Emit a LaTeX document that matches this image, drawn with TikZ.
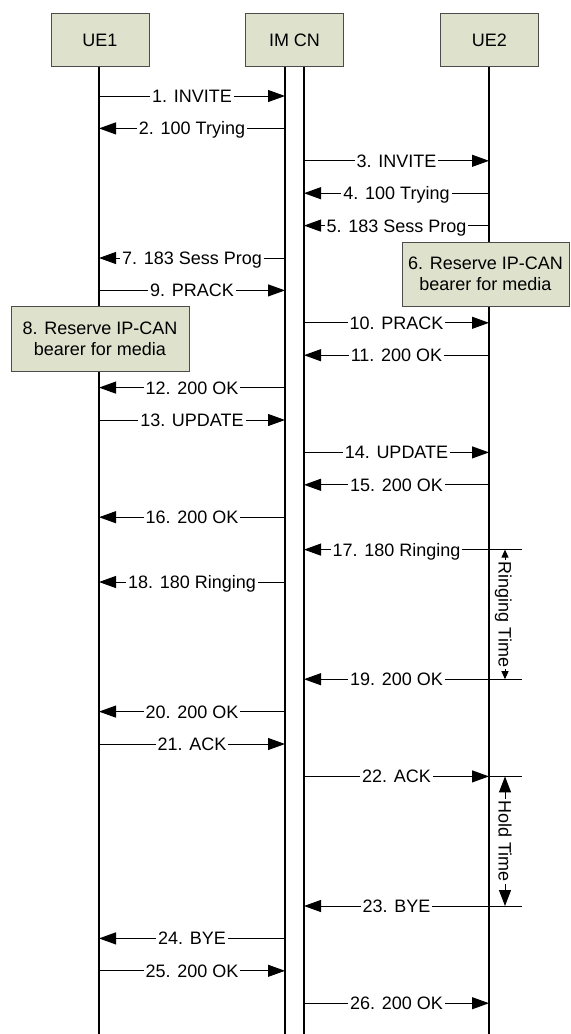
\documentclass[tikz,border=0pt]{standalone}
\usepackage{fontspec}
\setmainfont{Liberation Sans}
\usetikzlibrary{positioning,arrows.meta}
\definecolor{boxfill}{RGB}{222,226,205}
\tikzset{
  entbox/.style={draw=black!70, fill=boxfill, minimum width=49pt, minimum height=26.5pt, align=center},
  actbox/.style={draw=black!70, fill=boxfill, align=center, inner sep=0pt},
  lifeline/.style={line width=0.8pt},
  msgline/.style={line width=0.5pt},
  msgarrow/.style={msgline, -{Triangle[length=8.5pt,width=6pt]}},
  msglabel/.style={fill=white, inner xsep=1pt, inner ysep=1pt, text height=6.5pt, text depth=0pt},
  ringarrow/.style={line width=0.5pt, {Triangle[length=4pt,width=3.5pt]}-{Triangle[length=4pt,width=3.5pt]}},
  holdarrow/.style={line width=0.5pt, {Triangle[length=8pt,width=6pt]}-{Triangle[length=8pt,width=6pt]}}
}

\begin{document}
\begin{tikzpicture}[x=0.5pt, y=-0.5pt, font=\fontsize{9}{10.5}\selectfont]
  \useasboundingbox (0,0) rectangle (570,1034);

  % entities
  \node[entbox] (ue1) at (100,40) {UE1};
  \node[entbox] (imcn) at (294.5,40) {IM CN};
  \node[entbox] (ue2) at (489.5,40) {UE2};

  % lifelines
  \coordinate (l1) at (99,67);
  \coordinate (l2) at (285,67);
  \coordinate (l3) at (304,67);
  \coordinate (l4) at (489,67);
  \coordinate (rt) at (522,67);
  \coordinate (tm) at (505,67);
  \foreach \l in {l1,l2,l3,l4}
    \draw[lifeline] (\l) -- (\l |- 0,1034);

  % resource reservation
  \node[actbox, minimum width=89pt, minimum height=32.5pt] (res8) at (100,338.5) {8. Reserve IP-CAN\\bearer for media};
  \node[actbox, minimum width=83.5pt, minimum height=32pt] (res6) at (485.5,274) {6. Reserve IP-CAN\\bearer for media};

  % messages
  \foreach \y/\a/\b/\txt in {
      96/l1/l2/1. INVITE,
      128.4/l2/l1/2. 100 Trying,
      160.8/l3/l4/3. INVITE,
      193.2/l4/l3/4. 100 Trying,
      225.6/l4/l3/5. 183 Sess Prog,
      258/l2/l1/7. 183 Sess Prog,
      290.4/l1/l2/9. PRACK,
      322.8/l3/l4/10. PRACK,
      355.2/l4/l3/11. 200 OK,
      387.6/l2/l1/12. 200 OK,
      420/l1/l2/13. UPDATE,
      452.4/l3/l4/14. UPDATE,
      484.8/l4/l3/15. 200 OK,
      517.2/l2/l1/16. 200 OK,
      549.6/l4/l3/17. 180 Ringing,
      582/l2/l1/18. 180 Ringing,
      679.2/l4/l3/19. 200 OK,
      711.6/l2/l1/20. 200 OK,
      744/l1/l2/21. ACK,
      776.4/l3/l4/22. ACK,
      906/l4/l3/23. BYE,
      938.4/l2/l1/24. BYE,
      970.8/l1/l2/25. 200 OK,
      1003.2/l3/l4/26. 200 OK}
    \draw[msgarrow] (\a |- 0,\y) -- node[msglabel] {\txt} (\b |- 0,\y);

  % timer marks
  \foreach \y in {549.6,679.2,776.4,906}
    \draw[msgline] (l4 |- 0,\y) -- (rt |- 0,\y);
  \draw[ringarrow] (tm |- 0,549.6) -- node[msglabel, rotate=-90] {Ringing Time} (tm |- 0,679.2);
  \draw[holdarrow] (tm |- 0,776.4) -- node[msglabel, rotate=-90] {Hold Time} (tm |- 0,906);
\end{tikzpicture}
\end{document}
